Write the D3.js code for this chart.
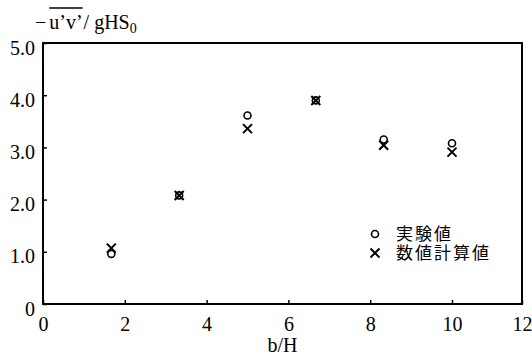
<!DOCTYPE html>
<html>
<head>
<meta charset="utf-8">
<script src="https://cdn.jsdelivr.net/npm/d3@7"></script>
<style>
  body { margin: 0; background: #fff; }
  svg { display: block; }
  .serif { font-family: "Liberation Serif", "DejaVu Serif", "Times New Roman", serif; }
</style>
</head>
<body>
<svg id="chart" width="532" height="357"></svg>
<script>
// b/H positions and the two series
var bH = [1.67, 3.33, 5.0, 6.67, 8.33, 10.0]
var experiment = [0.96, 2.08, 3.61, 3.90, 3.15, 3.08]   // 実験値
var numerical  = [1.07, 2.08, 3.36, 3.90, 3.04, 2.91]   // 数値計算値
var xTicks = [0, 2, 4, 6, 8, 10, 12]
var yTicks = [0, 1, 2, 3, 4, 5]
var legendLabels = ["実験値", "数値計算値"]

var svg = d3.select("#chart")
var cjk = "'Noto Sans CJK JP', sans-serif"

/// the scanned axis is a little squeezed at its right end
var x = d3.scaleLinear().domain([0, 10, 12]).range([43, 452, 522])
var y = d3.scaleLinear().domain([0, 5]).range([304, 43])

/// axes, ticks pointing inward
var xAxis = svg.append("g")
    .attr("transform", "translate(0," + y(0) + ")")
    .call(d3.axisBottom(x).tickValues(xTicks).tickSizeInner(-4).tickSizeOuter(0).tickPadding(10))
var yAxis = svg.append("g")
    .attr("transform", "translate(" + x(0) + ",0)")
    .call(d3.axisLeft(y).tickValues(yTicks).tickSizeInner(-4).tickSizeOuter(0).tickPadding(8)
          .tickFormat(d => d === 0 ? "0" : d.toFixed(1)))

svg.selectAll(".domain").remove()
svg.selectAll(".tick line").attr("stroke", "#000").attr("stroke-width", 1.5)
svg.selectAll(".tick text")
    .attr("class", "serif")
    .attr("font-family", null)
    .style("font-size", "20px")
    .attr("fill", "#000")
xAxis.attr("font-family", null)
yAxis.attr("font-family", null)
xAxis.selectAll(".tick text").attr("dy", "0.85em")
yAxis.selectAll(".tick text").attr("dy", "0.55em")

/// frame
svg.append("rect")
    .attr("x", x(0)).attr("y", y(5))
    .attr("width", x(12) - x(0)).attr("height", y(0) - y(5))
    .attr("fill", "none").attr("stroke", "#000").attr("stroke-width", 2)

/// axis titles
svg.append("text")
    .attr("class", "serif")
    .attr("x", (x(0) + x(12)) / 2).attr("y", 352)
    .attr("text-anchor", "middle")
    .style("font-size", "20px")
    .text("b/H")

var yt = svg.append("text")
    .attr("class", "serif")
    .attr("x", 35).attr("y", 29)
    .style("font-size", "20px")
yt.append("tspan").text("−")
yt.append("tspan").attr("dx", 3).text("u’v’")
yt.append("tspan").attr("dx", 1).text("/ gHS")
yt.append("tspan").style("font-size", "14px").attr("dy", 4).text("0")

/// overline over u'v'
var a = yt.node().getExtentOfChar(1), b = yt.node().getExtentOfChar(4)
svg.append("line")
    .attr("x1", a.x).attr("x2", b.x + b.width)
    .attr("y1", 8).attr("y2", 8)
    .attr("stroke", "#000").attr("stroke-width", 1.5)

/// markers
function cross(g, cx, cy, s) {
    g.append("path")
        .attr("d", "M" + (cx - s) + "," + (cy - s) + "L" + (cx + s) + "," + (cy + s) +
                   "M" + (cx - s) + "," + (cy + s) + "L" + (cx + s) + "," + (cy - s))
        .attr("stroke", "#000").attr("stroke-width", 2).attr("fill", "none")
}

svg.append("g").selectAll("circle")
    .data(experiment)
    .enter()
    .append("circle")
    .attr("cx", (d, i) => x(bH[i]))
    .attr("cy", d => y(d))
    .attr("r", 3.5)
    .attr("fill", "none").attr("stroke", "#000").attr("stroke-width", 1.6)

var gx = svg.append("g")
numerical.forEach((d, i) => cross(gx, x(bH[i]), y(d), 4.5))

/// legend
var lg = svg.append("g")
lg.append("circle").attr("cx", 375).attr("cy", 234).attr("r", 3.5)
    .attr("fill", "none").attr("stroke", "#000").attr("stroke-width", 1.6)
cross(lg, 375, 253, 4.5)
lg.selectAll("text")
    .data(legendLabels)
    .enter()
    .append("text")
    .attr("x", 396)
    .attr("y", (d, i) => 234 + i * 19)
    .attr("dy", "0.36em")
    .attr("font-family", cjk).attr("font-size", "17px")
    .attr("letter-spacing", "2px")
    .text(d => d)
</script>
</body>
</html>
